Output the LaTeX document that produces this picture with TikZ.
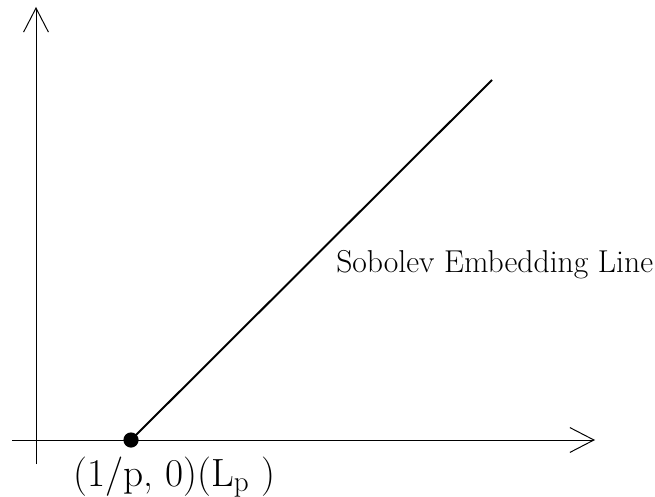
\documentclass[tikz,border=0pt]{standalone}
\usetikzlibrary{arrows.meta, positioning}
\begin{document}
\begin{tikzpicture}[x=0.025cm, y=-0.025cm,
    axis/.style={line width=0.7pt, -{Straight Barb[length=0.6cm, width=0.62cm]}},
    embline/.style={line width=1.4pt},
    dot/.style={circle, fill=black, inner sep=0pt, minimum size=0.38cm},
    lbl/.style={font=\fontsize{22.5}{26}\selectfont, inner sep=0pt},
    ptlbl/.style={font=\fontsize{28}{32}\selectfont, inner sep=0pt}]
  \useasboundingbox (0,0) rectangle (655,497);
  % axes
  \coordinate (xs) at (12,440);
  \coordinate (xe) at (595,440);
  \coordinate (ys) at (36,464);
  \coordinate (ye) at (36,7);
  \draw[axis] (xs) -- (xe);
  \draw[axis] (ys) -- (ye);
  % embedding line
  \node[dot] (lp) at (131,440) {};
  \coordinate (top) at (492,80);
  \draw[embline] (lp.center) -- (top);
  \node[lbl, anchor=base west] (emb) at (336,273) {Sobolev Embedding Line};
  % point label
  \node[ptlbl, anchor=base west] (lplbl) at (73,486) {(1/p, 0)(L$_{\mathrm{p}}$ )};
\end{tikzpicture}
\end{document}
